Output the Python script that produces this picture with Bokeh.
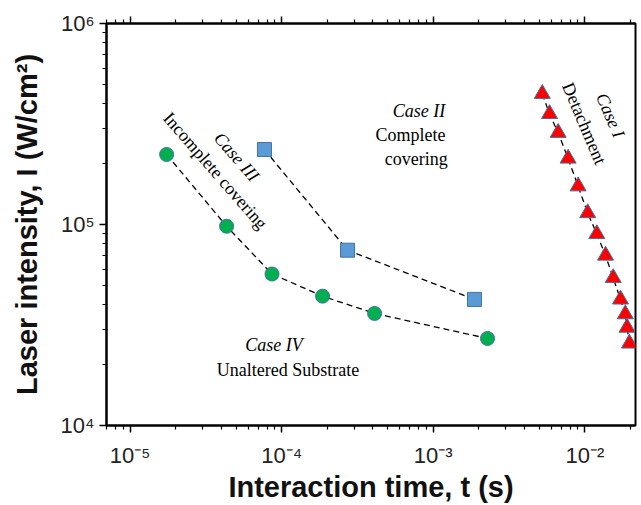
from bokeh.plotting import figure
from bokeh.models import Range1d, LogAxis, FixedTicker, Label
from bokeh.embed import file_html
from bokeh.resources import INLINE

# ---- data ----
t_case3 = [1.74e-5, 4.33e-5, 8.63e-5, 1.86e-4, 4.10e-4, 2.28e-3]
I_case3 = [2.23e5, 9.8e4, 5.67e4, 4.40e4, 3.61e4, 2.71e4]

t_case2 = [7.69e-5, 2.72e-4, 1.87e-3]
I_case2 = [2.36e5, 7.45e4, 4.24e4]

t_case1 = [5.24e-3, 5.85e-3, 6.67e-3, 7.76e-3, 9.03e-3, 1.045e-2, 1.20e-2,
           1.37e-2, 1.54e-2, 1.72e-2, 1.85e-2, 1.90e-2, 1.97e-2]
I_case1 = [4.47e5, 3.55e5, 2.86e5, 2.13e5, 1.55e5, 1.14e5, 8.97e4,
           7.01e4, 5.42e4, 4.24e4, 3.58e4, 3.07e4, 2.56e4]

x_major = [1e-5, 1e-4, 1e-3, 1e-2]
x_labels = ["10\u207b\u2075", "10\u207b\u2074", "10\u207b\u00b3", "10\u207b\u00b2"]
y_major = [1e4, 1e5, 1e6]
y_labels = ["10\u2074", "10\u2075", "10\u2076"]

x_minor = [m * 10.0 ** e for e in range(-6, -1) for m in range(2, 10)]
y_minor = [m * 10.0 ** e for e in range(4, 6) for m in range(2, 10)]

# annotation texts: (text, t, I, angle_deg, italic)
notes = [
    ("Case II", 8.04e-4, 3.65e5, 0, True),
    ("Complete", 7.08e-4, 2.80e5, 0, False),
    ("covering", 7.71e-4, 2.11e5, 0, False),
    ("Case IV", 8.89e-5, 2.52e4, 0, True),
    ("Unaltered Substrate", 1.10e-4, 1.89e4, 0, False),
    ("Case III", 5.04e-5, 2.17e5, -49, True),
    ("Incomplete covering", 3.65e-5, 1.85e5, -49, False),
    ("Case I", 1.476e-2, 3.49e5, -67, True),
    ("Detachment", 9.93e-3, 3.18e5, -67, False),
]

p = figure(width=641, height=505, x_axis_type="log", y_axis_type="log",
           x_range=Range1d(6.98e-6, 2.16e-2), y_range=Range1d(1e4, 1e6),
           output_backend="svg", toolbar_location=None,
           min_border_left=106, min_border_right=6, min_border_top=23,
           min_border_bottom=77)

p.xgrid.visible = False
p.ygrid.visible = False
p.outline_line_color = "black"
p.outline_line_width = 2
p.outline_line_alpha = 1

p.xaxis.ticker = FixedTicker(ticks=x_major, minor_ticks=x_minor)
p.yaxis.ticker = FixedTicker(ticks=y_major, minor_ticks=y_minor)
p.xaxis.major_label_overrides = dict(zip(x_major, x_labels))
p.yaxis.major_label_overrides = dict(zip(y_major, y_labels))

for ax in (p.xaxis[0], p.yaxis[0]):
    ax.axis_line_width = 2
    ax.axis_line_color = "black"
    ax.major_tick_line_width = 1.5
    ax.major_tick_line_color = "black"
    ax.minor_tick_line_width = 1.2
    ax.minor_tick_line_color = "black"
    ax.major_tick_in = 0
    ax.major_tick_out = 7
    ax.minor_tick_in = 0
    ax.minor_tick_out = 4
    ax.major_label_text_font = "Liberation Sans"
    ax.major_label_text_font_size = "22px"
    ax.major_label_text_color = "#222222"
    ax.axis_label_text_font = "Liberation Sans"
    ax.axis_label_text_font_size = "29px"
    ax.axis_label_text_font_style = "bold"
    ax.axis_label_text_color = "#111111"

p.xaxis.axis_label = "Interaction time, t (s)"
p.yaxis.axis_label = "Laser intensity, I (W/cm\u00b2)"
p.xaxis.major_label_standoff = 10
p.xaxis.axis_label_standoff = 0
p.yaxis.major_label_standoff = 5
p.yaxis.axis_label_standoff = 15

top = LogAxis(ticker=FixedTicker(ticks=x_major, minor_ticks=x_minor),
              major_label_text_font_size="1px", major_label_text_alpha=0,
              major_label_standoff=0,
              axis_line_width=2, major_tick_in=0, major_tick_out=7,
              minor_tick_in=0, minor_tick_out=4, major_tick_line_width=1.5,
              minor_tick_line_width=1.2)
p.add_layout(top, "above")

dash = "6 4"
p.line(t_case3, I_case3, line_color="black", line_dash=dash, line_width=1.3)
p.line(t_case2, I_case2, line_color="black", line_dash=dash, line_width=1.3)
p.line(t_case1, I_case1, line_color="black", line_dash=dash, line_width=1.3)

p.scatter(t_case3, I_case3, marker="circle", size=14, fill_color="#00B050",
          line_color="#41719C", line_width=1)
p.scatter(t_case2, I_case2, marker="square", size=14, fill_color="#5B9BD5",
          line_color="#41719C", line_width=1)
p.scatter(t_case1, I_case1, marker="triangle", size=16, fill_color="#FF0000",
          line_color="#41719C", line_width=1)

for text, tx, iy, ang, ital in notes:
    p.add_layout(Label(x=tx, y=iy, text=text, angle=ang, angle_units="deg",
                       text_font="Liberation Serif",
                       text_font_style="italic" if ital else "normal",
                       text_font_size="18px", text_color="black",
                       text_align="center", text_baseline="middle"))

open("out.html", "w").write(file_html(p, INLINE))
